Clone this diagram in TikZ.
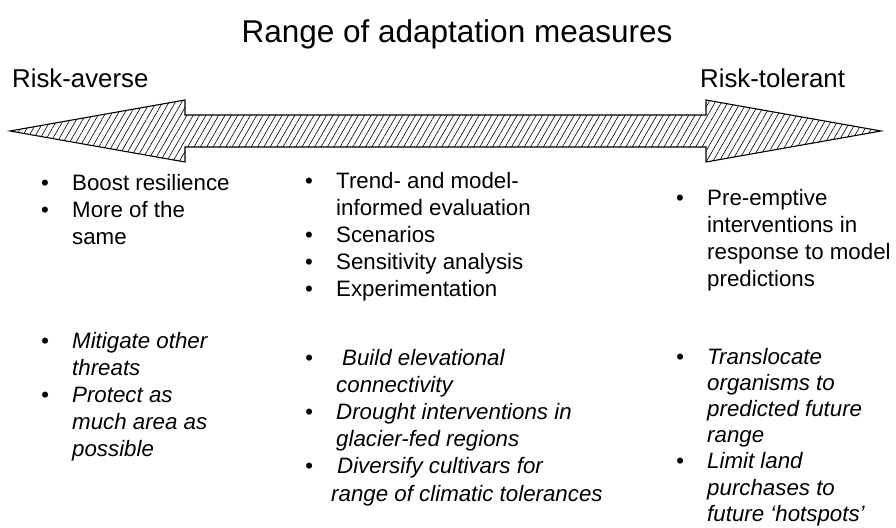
\documentclass[tikz,border=0pt]{standalone}
\usepackage{fontspec}
\setmainfont{Liberation Sans}
\usetikzlibrary{patterns.meta}

\newcommand{\blist}[1]{\begin{tabular}[t]{@{}p{31pt}@{}l@{}}#1\end{tabular}}

\begin{document}
\begin{tikzpicture}[x=1pt,y=-1pt,
    head/.style={anchor=base,inner sep=0pt,font=\fontsize{25.8}{30}\selectfont},
    lbl/.style={anchor=base west,inner sep=0pt,font=\fontsize{22.3}{27.2}\selectfont},
    lbli/.style={lbl,font=\fontsize{22.3}{27.2}\selectfont\itshape}]
      \useasboundingbox (0,0) rectangle (896,527);

      \node[head,font=\fontsize{31.5}{36}\selectfont] (title) at (457,42) {Range of adaptation measures};
      \node[head,anchor=base west] (averse) at (12,87) {Risk-averse};
      \node[head,anchor=base west] (tolerant) at (700,87) {Risk-tolerant};

      % the double arrow
      \coordinate (ltip) at (10,131);
      \coordinate (rtip) at (881,131);
      \draw[line width=1.1pt,pattern={Lines[angle=60,distance=5.5pt,line width=.6pt]}]
        (ltip) -- (185,100) -- (185,115) -- (706,115) -- (706,100) -- (rtip)
        -- (706,162) -- (706,147) -- (185,147) -- (185,162) -- cycle;

      % upper lists
      \node[lbl] (a1) at (41,190) {\blist{\textbullet & Boost resilience\\
        \textbullet & More of the\\ & same}};
      \node[lbl] (b1) at (305,188) {\blist{\textbullet & Trend- and model-\\
        & informed evaluation\\ \textbullet & Scenarios\\
        \textbullet & Sensitivity analysis\\ \textbullet & Experimentation}};
      \node[lbl] (c1) at (676,205) {\blist{\textbullet & Pre-emptive\\
        & interventions in\\ & response to model\\ & predictions}};

      % lower lists
      \node[lbli] (a2) at (41,348) {\blist{\textbullet & Mitigate other\\
        & threats\\ \textbullet & Protect as\\ & much area as\\ & possible}};
      \node[lbli] (b2) at (305,365) {\blist{\textbullet & \hspace{6pt}Build elevational\\
        & connectivity\\ \textbullet & Drought interventions in\\
        & glacier-fed regions\\ \textbullet & \hspace{1pt}Diversify cultivars for\\
        & \hspace{-5pt}range of climatic tolerances}};
      \node[lbli,font=\fontsize{22.3}{26.2}\selectfont\itshape] (c2) at (676,364) {\blist{\textbullet & Translocate\\
        & organisms to\\ & predicted future\\ & range\\
        \textbullet & Limit land\\ & purchases to\\ & future `hotspots'}};
    \end{tikzpicture}
\end{document}
